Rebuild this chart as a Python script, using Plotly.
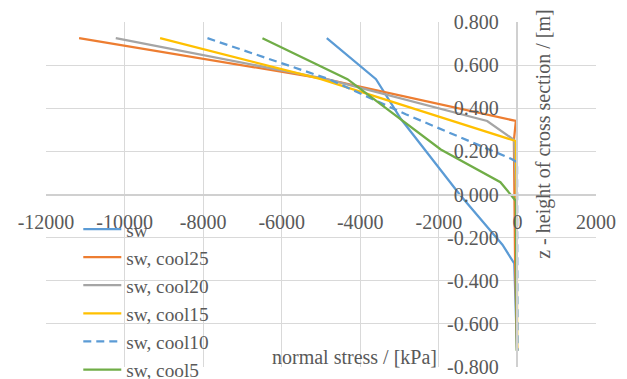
import plotly.graph_objects as go

# ---- data ----
sw_x = [-4853, -3600, -2960, -1470, -382, -80, -10]
sw_z = [0.725, 0.535, 0.349, 0.0, -0.233, -0.32, -0.725]

cool25_x = [-11158, -4880, -40, -90, -60, -10]
cool25_z = [0.725, 0.535, 0.341, 0.25, -0.3, -0.725]

cool20_x = [-10224, -4850, -770, -87, -30, -10]
cool20_z = [0.725, 0.535, 0.341, 0.253, 0.0, -0.725]

cool15_x = [-9096, -5000, -43, -20, -5]
cool15_z = [0.725, 0.535, 0.248, 0.0, -0.725]

cool10_x = [-7890, -4800, -2843, -150, -10, 0]
cool10_z = [0.725, 0.535, 0.372, 0.165, 0.15, -0.725]

cool5_x = [-6490, -4327, -1951, -433, -40, -15]
cool5_z = [0.725, 0.535, 0.209, 0.057, -0.03, -0.725]

series_names = ["sw", "sw, cool25", "sw, cool20", "sw, cool15", "sw, cool10", "sw, cool5"]

x_tickvals = [-12000, -10000, -8000, -6000, -4000, -2000, 0, 2000]
x_ticktext = ["-12000", "-10000", "-8000", "-6000", "-4000", "-2000", "0", "2000"]
y_tickvals = [-0.8, -0.6, -0.4, -0.2, 0.0, 0.2, 0.4, 0.6, 0.8]
y_ticktext = ["-0.800", "-0.600", "-0.400", "-0.200", "0.000", "0.200", "0.400", "0.600", "0.800"]

x_title = "normal stress / [kPa]"
y_title = "z - height of cross section / [m]"

# ---- styles ----
colors = ["#5B9BD5", "#ED7D31", "#A5A5A5", "#FFC000", "#5B9BD5", "#70AD47"]
dashes = ["solid", "solid", "solid", "solid", "8px,5px", "solid"]
FONT = "Liberation Serif"
TXT = "#595959"
GRID = "#D9D9D9"

xs = [sw_x, cool25_x, cool20_x, cool15_x, cool10_x, cool5_x]
zs = [sw_z, cool25_z, cool20_z, cool15_z, cool10_z, cool5_z]

fig = go.Figure()
for name, x, z, c, d in zip(series_names, xs, zs, colors, dashes):
    fig.add_trace(go.Scatter(x=x, y=z, mode="lines", name=name,
                             line=dict(color=c, width=2.25, dash=d)))

xmin, xmax = -12000, 2000
ymin, ymax = -0.8, 0.8

fig.update_layout(
    width=627, height=379,
    margin=dict(l=46, r=31, t=22, b=12, autoexpand=False),
    paper_bgcolor="white", plot_bgcolor="white",
    font=dict(family=FONT, size=20, color=TXT),
    showlegend=True,
    legend=dict(x=0.0587, y=0.455, xanchor="left", yanchor="top",
                bgcolor="rgba(0,0,0,0)", itemwidth=38,
                font=dict(family=FONT, size=19.3, color=TXT),
                tracegroupgap=0),
    xaxis=dict(range=[xmin, xmax], tickvals=x_tickvals, ticktext=x_ticktext,
               showgrid=True, gridcolor=GRID, gridwidth=1,
               zeroline=False, showline=True, linecolor="#D0D0D0", linewidth=1.5,
               anchor="free", position=(0 - ymin) / (ymax - ymin),
               ticks="", ticklabelstandoff=10,
               tickfont=dict(family=FONT, size=20, color=TXT)),
    yaxis=dict(range=[ymin, ymax], tickvals=y_tickvals, ticktext=y_ticktext,
               showgrid=True, gridcolor=GRID, gridwidth=1,
               zeroline=False, showline=True, linecolor="#D0D0D0", linewidth=1.5,
               anchor="free", position=(0 - xmin) / (xmax - xmin),
               side="left", ticks="", ticklabelstandoff=14,
               tickfont=dict(family=FONT, size=20, color=TXT)),
    annotations=[
        dict(text=x_title, xref="paper", yref="paper", x=0.56, y=0.029,
             xanchor="center", yanchor="middle", showarrow=False,
             font=dict(family=FONT, size=20, color=TXT)),
        dict(text=y_title, xref="paper", yref="paper", x=0.903, y=0.675,
             xanchor="center", yanchor="middle", showarrow=False, textangle=-90,
             font=dict(family=FONT, size=20, color=TXT)),
    ],
)

fig.write_html("out.html")
